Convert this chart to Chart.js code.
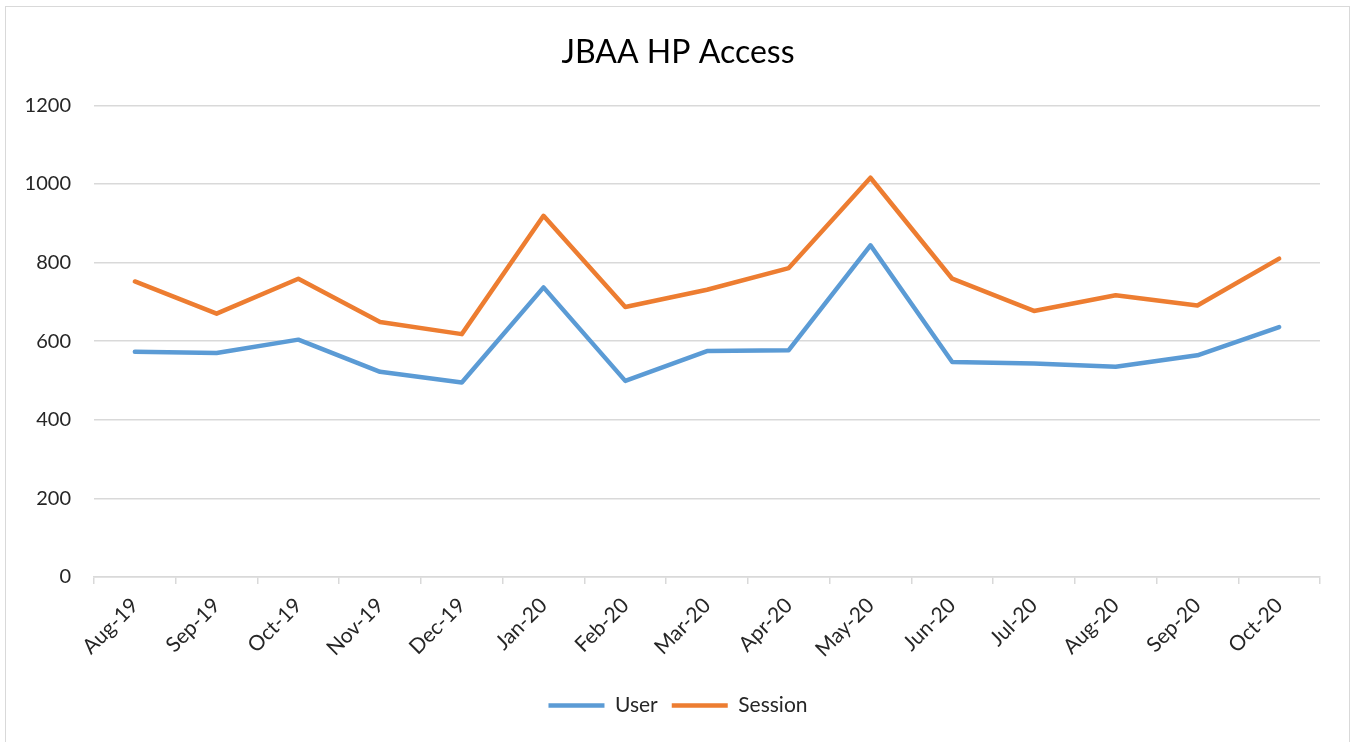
<!DOCTYPE html>
<html>
<head>
<meta charset="utf-8">
<script src="https://cdn.jsdelivr.net/npm/chart.js@4/dist/chart.umd.min.js"></script>
<style>
  body { margin: 0; background: #fff; }
  #wrap { position: relative; width: 1353px; height: 742px; }
  #frame { position: absolute; left: 5px; top: 6px; width: 1343px; height: 745px; border: 1px solid #d9d9d9; pointer-events: none; }
</style>
</head>
<body>
<div id="wrap">
  <canvas id="myChart" width="1353" height="742"></canvas>
  <div id="frame"></div>
</div>
<script>
// datos de la grafica
const months = ["Aug-19", "Sep-19", "Oct-19", "Nov-19", "Dec-19", "Jan-20", "Feb-20", "Mar-20",
  "Apr-20", "May-20", "Jun-20", "Jul-20", "Aug-20", "Sep-20", "Oct-20"];
const userValues = [573, 570, 604, 522, 495, 737, 499, 575, 577, 844, 547, 543, 535, 564, 636];
const sessionValues = [752, 670, 759, 649, 618, 919, 687, 731, 786, 1016, 759, 677, 717, 691, 810];
const yTicks = [0, 200, 400, 600, 800, 1000, 1200];

const fontName = "Lato, 'Open Sans', sans-serif";
const gridColor = "#d9d9d9";
const textColor = "#262626";

new Chart("myChart", {
  type: "line",
  data: {
    labels: months,
    datasets: [{
      label: "User",
      data: userValues,
      borderColor: "#5B9BD5",
      backgroundColor: "#5B9BD5",
      borderWidth: 4.5,
      borderCapStyle: "round",
      borderJoinStyle: "round",
      pointRadius: 0,
      tension: 0
    }, {
      label: "Session",
      data: sessionValues,
      borderColor: "#ED7D31",
      backgroundColor: "#ED7D31",
      borderWidth: 4.5,
      borderCapStyle: "round",
      borderJoinStyle: "round",
      pointRadius: 0,
      tension: 0
    }]
  },
  options: {
    responsive: false,
    animation: false,
    layout: { padding: { left: 18, right: 15, top: 0, bottom: 16 } },
    plugins: {
      title: {
        display: true,
        text: "JBAA HP Access",
        color: "#000",
        font: { family: fontName, size: 32, weight: "normal" },
        padding: { top: 33, bottom: 34 }
      },
      legend: {
        position: "bottom",
        labels: {
          usePointStyle: true,
          pointStyle: "line",
          pointStyleWidth: 56,
          boxHeight: 4,
          padding: 14,
          color: textColor,
          font: { family: fontName, size: 21 }
        }
      },
      tooltip: { enabled: false }
    },
    scales: {
      x: {
        offset: true,
        grid: {
          offset: true,
          drawOnChartArea: false,
          drawTicks: true,
          tickLength: 7,
          color: gridColor,
          lineWidth: 1.5
        },
        border: { color: gridColor, width: 1.5 },
        ticks: {
          color: textColor,
          font: { family: fontName, size: 21 },
          minRotation: 45,
          maxRotation: 45,
          padding: 9
        },
        afterFit: (scale) => { scale.height = 104; }
      },
      y: {
        min: 0,
        max: 1200,
        afterBuildTicks: (scale) => { scale.ticks = yTicks.map(v => ({ value: v })); },
        grid: { color: gridColor, lineWidth: 1.5, drawTicks: false },
        border: { display: false },
        ticks: {
          color: textColor,
          font: { family: fontName, size: 20 },
          padding: 23,
          callback: (v) => String(v)
        },
        afterFit: (scale) => { scale.width = 76; }
      },
      // eje vacio a la derecha, solo para dejar espacio
      yRight: {
        position: "right",
        grid: { display: false },
        border: { display: false },
        ticks: { display: false },
        afterFit: (scale) => { scale.width = 18; }
      }
    }
  }
});
</script>
</body>
</html>
